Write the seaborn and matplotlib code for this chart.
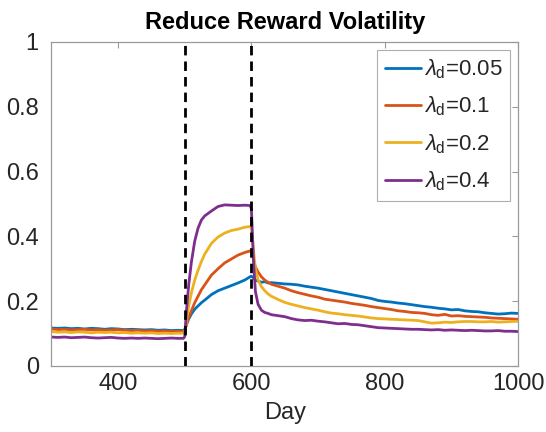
import matplotlib
matplotlib.use("Agg")
import matplotlib.pyplot as plt
import numpy as np
import pandas as pd
import seaborn as sns

# Simulation days (dense around the two switching points)
day = ([300, 310, 320, 330, 340, 350, 360, 370, 380, 390,
        400, 410, 420, 430, 440, 450, 460, 470, 480, 490, 498]
       + [500, 503, 506, 510, 515, 520, 525, 530, 540, 550, 560, 570, 580, 590, 598]
       + [600, 603, 606, 610, 615, 620, 625, 630, 640]
       + list(range(650, 1001, 10)))

rate_005 = ([0.117, 0.116, 0.117, 0.115, 0.116, 0.114, 0.116, 0.115, 0.113, 0.115,
             0.114, 0.112, 0.113, 0.112, 0.111, 0.112, 0.110, 0.111, 0.109, 0.110, 0.109]
            + [0.112, 0.130, 0.145, 0.160, 0.175, 0.185, 0.195, 0.203, 0.220, 0.232,
               0.240, 0.248, 0.256, 0.265, 0.275]
            + [0.277, 0.272, 0.265, 0.262, 0.258, 0.260, 0.256, 0.257, 0.255]
            + [0.253, 0.252, 0.250, 0.246, 0.243, 0.240, 0.236, 0.232, 0.228, 0.224,
               0.220, 0.216, 0.212, 0.208, 0.202, 0.199, 0.197, 0.194, 0.192, 0.189,
               0.186, 0.183, 0.181, 0.178, 0.176, 0.173, 0.174, 0.170, 0.168, 0.167,
               0.164, 0.162, 0.160, 0.161, 0.163, 0.162])

rate_01 = ([0.114, 0.112, 0.113, 0.111, 0.112, 0.113, 0.111, 0.112, 0.110, 0.111,
            0.112, 0.110, 0.109, 0.110, 0.108, 0.109, 0.107, 0.108, 0.106, 0.107, 0.106]
           + [0.108, 0.130, 0.150, 0.170, 0.195, 0.215, 0.235, 0.250, 0.280, 0.300,
              0.318, 0.330, 0.342, 0.350, 0.355]
           + [0.353, 0.330, 0.305, 0.290, 0.275, 0.265, 0.258, 0.252, 0.246]
           + [0.240, 0.232, 0.226, 0.221, 0.216, 0.212, 0.206, 0.203, 0.200, 0.197,
              0.193, 0.190, 0.187, 0.183, 0.180, 0.177, 0.174, 0.170, 0.168, 0.165,
              0.164, 0.162, 0.158, 0.156, 0.159, 0.154, 0.155, 0.153, 0.152, 0.151,
              0.150, 0.148, 0.147, 0.146, 0.145, 0.144])

rate_02 = ([0.106, 0.104, 0.105, 0.103, 0.105, 0.104, 0.102, 0.104, 0.103, 0.104,
            0.102, 0.103, 0.101, 0.102, 0.101, 0.102, 0.100, 0.101, 0.100, 0.101, 0.101]
           + [0.105, 0.145, 0.185, 0.225, 0.265, 0.295, 0.322, 0.345, 0.378, 0.398,
              0.410, 0.418, 0.422, 0.428, 0.430]
           + [0.428, 0.360, 0.300, 0.265, 0.245, 0.232, 0.222, 0.215, 0.205]
           + [0.196, 0.190, 0.185, 0.180, 0.176, 0.172, 0.167, 0.163, 0.161, 0.158,
              0.156, 0.154, 0.151, 0.148, 0.146, 0.145, 0.144, 0.143, 0.142, 0.141,
              0.140, 0.136, 0.132, 0.133, 0.135, 0.134, 0.136, 0.137, 0.137, 0.136,
              0.136, 0.137, 0.135, 0.136, 0.137, 0.138])

rate_04 = ([0.089, 0.088, 0.089, 0.087, 0.088, 0.089, 0.087, 0.086, 0.087, 0.088,
            0.086, 0.085, 0.086, 0.085, 0.086, 0.085, 0.084, 0.085, 0.086, 0.085, 0.085]
           + [0.090, 0.180, 0.250, 0.320, 0.385, 0.425, 0.450, 0.463, 0.478, 0.492,
              0.497, 0.496, 0.495, 0.496, 0.495]
           + [0.485, 0.330, 0.230, 0.190, 0.172, 0.165, 0.162, 0.158, 0.155]
           + [0.152, 0.146, 0.142, 0.140, 0.141, 0.138, 0.136, 0.133, 0.130, 0.131,
              0.128, 0.127, 0.124, 0.121, 0.118, 0.117, 0.116, 0.115, 0.114, 0.113,
              0.113, 0.112, 0.111, 0.112, 0.110, 0.111, 0.110, 0.109, 0.110, 0.109,
              0.108, 0.108, 0.109, 0.107, 0.107, 0.106])

series_labels = [r"$\lambda_{\mathrm{d}}$=0.05", r"$\lambda_{\mathrm{d}}$=0.1",
                 r"$\lambda_{\mathrm{d}}$=0.2", r"$\lambda_{\mathrm{d}}$=0.4"]
series_values = [rate_005, rate_01, rate_02, rate_04]
colors = ["#0072BD", "#D95319", "#EDB120", "#7E2F8E"]
phase_bounds = [500, 600]

x_ticks = [400, 600, 800, 1000]
y_ticks = [0, 0.2, 0.4, 0.6, 0.8, 1]
y_ticklabels = ["0", "0.2", "0.4", "0.6", "0.8", "1"]

df = pd.concat(
    [pd.DataFrame({"Day": day, "value": v, "series": lab})
     for lab, v in zip(series_labels, series_values)],
    ignore_index=True)

sns.set_theme(style="white")
plt.rcParams["font.family"] = ["Liberation Sans", "DejaVu Sans"]
plt.rcParams["mathtext.fontset"] = "custom"
plt.rcParams["mathtext.rm"] = "Liberation Sans"
plt.rcParams["mathtext.it"] = "Liberation Sans:italic"

fig = plt.figure(figsize=(5.46, 4.32), dpi=100)
ax = fig.add_axes([0.094, 0.153, 0.855, 0.750])

sns.lineplot(data=df, x="Day", y="value", hue="series",
             palette=dict(zip(series_labels, colors)),
             linewidth=2.0, ax=ax, legend=False, sort=False)

for b in phase_bounds:
    ax.axvline(b, color="black", linestyle=(0, (3.4, 2.2)), linewidth=2.0, zorder=5)

ax.set_xlim(300, 1000)
ax.set_ylim(0, 1)
ax.set_xticks(x_ticks)
ax.set_yticks(y_ticks)
ax.set_yticklabels(y_ticklabels)
ax.tick_params(axis="both", which="both", direction="in", length=4, width=0.8,
               color="#9a9a9a", labelsize=17, labelcolor="#262626",
               top=True, right=True)
ax.tick_params(axis="y", pad=9)
ax.tick_params(axis="x", pad=5)
for s in ax.spines.values():
    s.set_color("#9a9a9a")
    s.set_linewidth(0.9)

ax.set_xlabel("Day", fontsize=17, color="#262626", labelpad=5)
ax.set_ylabel("")
ax.set_title("Reduce Reward Volatility", fontsize=17, fontweight="bold",
             color="black", pad=9)

handles = [plt.Line2D([], [], color=c, linewidth=2.0) for c in colors]
leg = ax.legend(handles, series_labels, loc="upper right", fontsize=16,
                frameon=True, fancybox=False, edgecolor="#9a9a9a",
                handlelength=1.6, handletextpad=0.15, borderaxespad=0.35,
                labelspacing=0.62, borderpad=0.35)
leg.get_frame().set_linewidth(0.8)

fig.savefig("out.png", dpi=100)
